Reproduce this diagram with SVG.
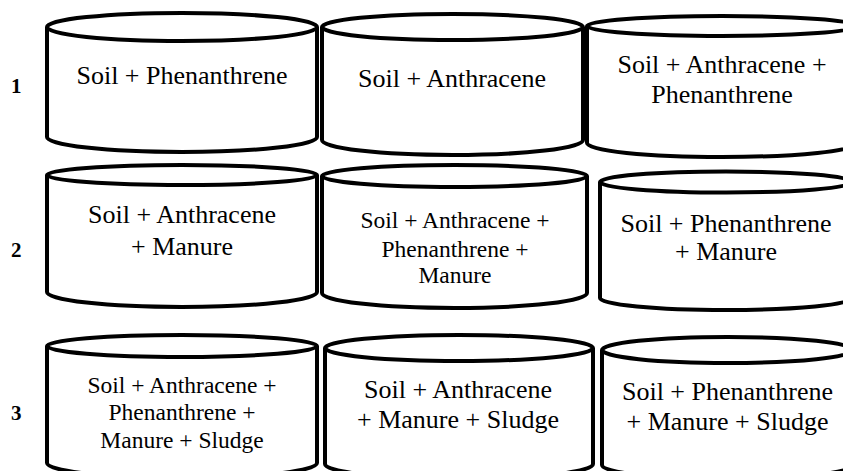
<svg xmlns="http://www.w3.org/2000/svg" width="843" height="471" viewBox="0 0 843 471">
<style>
.cyl{fill:#fff;stroke:#000;stroke-width:4;stroke-linejoin:round}
text{font-family:'Liberation Serif','DejaVu Serif',serif;fill:#000}
.t{font-size:26px;text-anchor:middle}
.s{font-size:23.5px}
.n{font-size:21px;font-weight:bold}
</style>
<rect width="843" height="471" fill="#fff"/>
<g id="labels">
<text class="n" x="11" y="93">1</text>
<text class="n" x="11" y="257">2</text>
<text class="n" x="11" y="420">3</text>
</g>
<g id="r1c1">
<path class="cyl" d="M47,27 L47,137 A135,15 0 0 0 317,137 L317,27"/>
<ellipse class="cyl" cx="182" cy="27" rx="135" ry="14"/>
<text class="t" x="182" y="84" font-family="Liberation Serif, serif">Soil + Phenanthrene</text>
</g>
<g id="r1c2">
<path class="cyl" d="M322,27 L322,140 A130.5,15 0 0 0 583,140 L583,27"/>
<ellipse class="cyl" cx="452.5" cy="27" rx="130.5" ry="13"/>
<text class="t" x="452" y="87">Soil + Anthracene</text>
</g>
<g id="r1c3">
<path class="cyl" d="M587,26 L587,143 A135,14 0 0 0 857,143 L857,26"/>
<ellipse class="cyl" cx="722" cy="26" rx="135" ry="10"/>
<text class="t" x="722" y="73">Soil + Anthracene +</text>
<text class="t" x="722" y="103">Phenanthrene</text>
</g>
<g id="r2c1">
<path class="cyl" d="M47,175 L47,292 A135,15 0 0 0 317,292 L317,175"/>
<ellipse class="cyl" cx="182" cy="175" rx="135" ry="10"/>
<text class="t" x="182" y="223">Soil + Anthracene</text>
<text class="t" x="182" y="255">+ Manure</text>
</g>
<g id="r2c2">
<path class="cyl" d="M322,176 L322,293 A132.5,15 0 0 0 587,293 L587,176"/>
<ellipse class="cyl" cx="454.5" cy="176" rx="132.5" ry="11"/>
<text class="t s" x="455" y="228">Soil + Anthracene +</text>
<text class="t s" x="455" y="257">Phenanthrene +</text>
<text class="t s" x="455" y="283">Manure</text>
</g>
<g id="r2c3">
<path class="cyl" d="M600,182 L600,298 A126,12 0 0 0 852,298 L852,182"/>
<ellipse class="cyl" cx="726" cy="182" rx="126" ry="10.5"/>
<text class="t" x="726" y="232">Soil + Phenanthrene</text>
<text class="t" x="726" y="260">+ Manure</text>
</g>
<g id="r3c1">
<path class="cyl" d="M47,346 L47,463 A135,15 0 0 0 317,463 L317,346"/>
<ellipse class="cyl" cx="182" cy="346" rx="135" ry="11"/>
<text class="t s" x="182" y="393">Soil + Anthracene +</text>
<text class="t s" x="182" y="420">Phenanthrene +</text>
<text class="t s" x="182" y="448">Manure + Sludge</text>
</g>
<g id="r3c2">
<path class="cyl" d="M325,348 L325,464 A134,15 0 0 0 593,464 L593,348"/>
<ellipse class="cyl" cx="459" cy="348" rx="134" ry="13"/>
<text class="t" x="458" y="398">Soil + Anthracene</text>
<text class="t" x="458" y="428">+ Manure + Sludge</text>
</g>
<g id="r3c3">
<path class="cyl" d="M602,350 L602,465 A125.5,14 0 0 0 853,465 L853,350"/>
<ellipse class="cyl" cx="727.5" cy="350" rx="125.5" ry="13"/>
<text class="t" x="727.5" y="400">Soil + Phenanthrene</text>
<text class="t" x="727.5" y="430">+ Manure + Sludge</text>
</g>
<g id="connectors"/>
</svg>
